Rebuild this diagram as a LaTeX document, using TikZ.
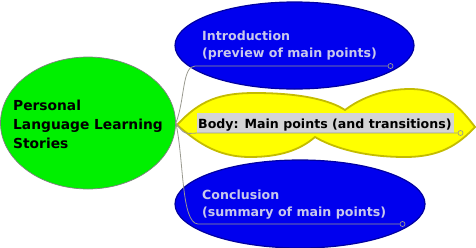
\documentclass[tikz,border=0pt]{standalone}
\usepackage{fontspec}
\setmainfont{DejaVu Sans}
\usepackage{xcolor}
\usepackage{tikz}
\usetikzlibrary{calc,shapes.geometric,positioning}
\definecolor{topicc}{HTML}{00F000}
\definecolor{bluec}{HTML}{0000EE}
\definecolor{blued}{HTML}{0000A0}
\definecolor{yelc}{HTML}{FFFF00}
\definecolor{yeld}{HTML}{C4BC00}
\definecolor{lavc}{HTML}{C8C8EC}
\definecolor{linec}{HTML}{9A9A90}
\definecolor{hlc}{HTML}{D4D4D4}
\tikzset{
  oval/.style={ellipse,inner sep=0pt},
  txt/.style={inner sep=0pt,anchor=base west,align=left,font=\bfseries},
  conn/.style={draw=linec,line width=0.8pt},
  endc/.style={circle,draw=linec,line width=0.7pt,minimum size=5pt,inner sep=0pt}
}
\begin{document}
\begin{tikzpicture}[x=1pt,y=-1pt]
\useasboundingbox (0,0) rectangle (476,247);
% branches
\node[oval,fill=bluec,draw=blued,line width=1.2pt,minimum width=239pt,minimum height=87pt] (intro) at (294.5,45.5) {};
\node[oval,fill=bluec,draw=blued,line width=1.2pt,minimum width=250pt,minimum height=88pt] (concl) at (300,204) {};
\draw[fill=yelc,draw=yeld,line width=1.8pt] (177,125)
  .. controls (200,100) and (220,93) .. (255,93)
  .. controls (300,93) and (330,100) .. (345,110)
  .. controls (362,97) and (385,89) .. (410,89)
  .. controls (445,89) and (462,110) .. (475,127)
  .. controls (458,145) and (440,157) .. (405,157)
  .. controls (360,157) and (330,146) .. (315,137)
  .. controls (300,150) and (280,157) .. (250,157)
  .. controls (215,157) and (195,140) .. (177,125) -- cycle;
% central topic
\node[oval,fill=topicc,draw=gray,line width=0.7pt,minimum width=175pt,minimum height=132pt] (topic) at (88,123) {};
\node[txt,font=\bfseries\fontsize{13.8}{19}\selectfont] (topictxt) at (13,148) {Personal\\Language Learning\\Stories};
% labels
\fill[hlc] (197,113) rectangle (454,133);
\node[txt,text=lavc,font=\bfseries\fontsize{12.6}{17}\selectfont] (introtxt) at (202,57) {Introduction\\(preview of main points)};
\node[txt,font=\bfseries\fontsize{12.6}{17}\selectfont] (bodytxt) at (198,128) {Body: Main points (and transitions)};
\node[txt,text=lavc,font=\bfseries\fontsize{12.6}{17}\selectfont] (concltxt) at (202,216) {Conclusion\\(summary of main points)};
% connectors
\node[endc] (introend) at (390.5,66) {};
\node[endc] (bodyend) at (460.5,133) {};
\node[endc] (conclend) at (402.5,224) {};
\draw[conn] (topic.east) .. controls (185,100) and (182,66) .. (195,66) -- (introend.west);
\draw[conn] (topic.east) .. controls (184,134) .. (197,133) -- (bodyend.west);
\draw[conn] (topic.east) .. controls (184,160) and (181,223) .. (198,224) -- (conclend.west);
\end{tikzpicture}
\end{document}
